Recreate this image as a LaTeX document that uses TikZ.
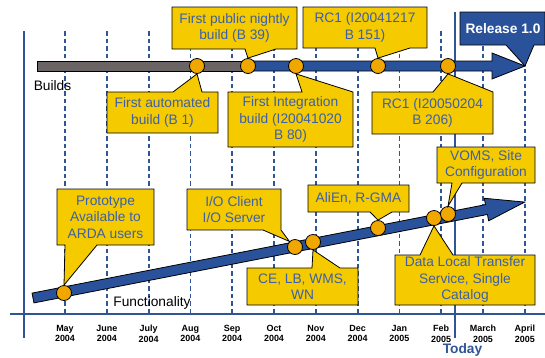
\documentclass[tikz,border=0pt]{standalone}
\usepackage{fontspec}
\setmainfont{Liberation Sans}

\definecolor{boxyellow}{HTML}{F5CB00}
\definecolor{dotorange}{HTML}{F0A800}
\definecolor{noteblue}{HTML}{3C5FAA}
\definecolor{barblue}{HTML}{2A529B}
\definecolor{lineblue}{HTML}{2F5597}
\definecolor{bargray}{HTML}{6A6464}

\begin{document}
\begin{tikzpicture}[x=1bp, y=-1bp, line join=miter,
	notebox/.style={fill=boxyellow, draw=black, line width=0.8bp},
	note/.style={align=center, text=noteblue, inner sep=0pt, font=\fontsize{13.8}{16.4}\selectfont},
	dot/.style={circle, fill=dotorange, draw=black, line width=0.8bp, minimum size=15bp, inner sep=0pt},
	month/.style={align=center, inner sep=0pt, font=\bfseries\fontsize{9}{10.7}\selectfont},
	gridline/.style={lineblue, line width=1.8bp, dash pattern=on 4.5bp off 3bp},
	axis/.style={lineblue, line width=1.5bp}]

	\useasboundingbox (0,0) rectangle (545,357);

	% months
	\foreach \m/\yr [count=\i from 0] in {May/2004,June/2004,July/2004,Aug/2004,Sep/2004,Oct/2004,Nov/2004,Dec/2004,Jan/2005,Feb/2005,March/2005,April/2005}{
		\draw[gridline] ({65+41.8*\i},31) -- ({65+41.8*\i},314);
		\node[month] (m\i) at ({65+41.8*\i},333.5) {\m\\\yr};}

	\node[font=\bfseries\fontsize{13.8}{16}\selectfont, text=lineblue, inner sep=0pt] (today) at (462.5,350) {Today};
	\draw[lineblue, line width=1.8bp] (455,12) -- (455,338);
	\draw[axis] (24,31) -- (24,338);
	\draw[axis] (10,314) -- (545,314);

	% builds
	\filldraw[fill=barblue, line width=0.8bp] (245,61) -- (492,61) -- (492,53) -- (525,66) -- (492,79) -- (492,71) -- (245,71) -- cycle;
	\filldraw[fill=bargray, line width=0.8bp] (37,61) rectangle (248,71);
	\coordinate (buildend) at (525,66);
	\node[note, text=black] (builds) at (52.5,86) {Builds};

	% functionality
	\begin{scope}[shift={(33,298)}, rotate=11.04]
		\filldraw[fill=barblue, line width=0.8bp] (0,-5) -- (462,-5) -- (462,-11.5) -- (501,0) -- (462,11.5) -- (462,5) -- (0,5) -- cycle;
	\end{scope}
	\node[note, text=black] (func) at (152,303) {Functionality};

	\foreach \x [count=\i] in {197,248,296,378,448}
		\node[dot] (b\i) at (\x,66) {};
	\foreach \x/\y [count=\i] in {64/293,295/247,313/242,378/228,434/218,448/214}
		\node[dot] (f\i) at (\x,\y) {};

	% build notes
	\filldraw[notebox] (172,7) -- (297,7) -- (297,49) -- (276,49) -- (b2.north) -- (245,49) -- (172,49) -- cycle;
	\node[note] (nightly) at (234.5,28) {First public nightly\\build (B 39)};
	\filldraw[notebox] (303,7) -- (427,7) -- (427,48) -- (410,48) -- (b4.north) -- (375,48) -- (303,48) -- cycle;
	\node[note] (rcone) at (365,27.5) {RC1 (I20041217\\B 151)};
	\filldraw[notebox, fill=barblue] (460,12) -- (545,12) -- (545,45) -- (534,45) -- (buildend) -- (506,45) -- (460,45) -- cycle;
	\node[note, text=white, font=\bfseries\fontsize{13.8}{16}\selectfont] (release) at (503,28.5) {Release 1.0};
	\filldraw[notebox] (107,92) -- (173,92) -- (b1.south) -- (202,92) -- (218,92) -- (218,133) -- (107,133) -- cycle;
	\node[note] (auto) at (162.5,112.5) {First automated\\build (B 1)};
	\filldraw[notebox] (228,92) -- (302,92) -- (b3.south) -- (353,92) -- (353,147) -- (228,147) -- cycle;
	\node[note] (integ) at (290.5,119.5) {First Integration\\build (I20041020\\B 80)};
	\filldraw[notebox] (372,92) -- (433,92) -- (b5.south) -- (493,92) -- (493,134) -- (372,134) -- cycle;
	\node[note] (rctwo) at (432.5,113) {RC1 (I20050204\\B 206)};

	% functionality notes
	\filldraw[notebox] (57,189) -- (154,189) -- (154,245) -- (97,245) -- (f1.north) -- (65,245) -- (57,245) -- cycle;
	\node[note] (proto) at (105.5,217) {Prototype\\Available to\\ARDA users};
	\filldraw[notebox] (187,189) -- (281,189) -- (281,230) -- (f2.135) -- (263,230) -- (187,230) -- cycle;
	\node[note] (io) at (234,209.5) {I/O Client\\I/O Server};
	\filldraw[notebox] (247,268) -- (312,268) -- (f3.south) -- (340,268) -- (358,268) -- (358,305) -- (247,305) -- cycle;
	\node[note] (ce) at (302.5,287) {CE, LB, WMS,\\WN};
	\filldraw[notebox] (308,185) -- (409,185) -- (409,212) -- (392,212) -- (f4.north) -- (370,212) -- (308,212) -- cycle;
	\node[note] (alien) at (358.5,198.5) {AliEn, R-GMA};
	\filldraw[notebox] (437,147) -- (535,147) -- (535,183) -- (462,183) -- (f6.north) -- (452,183) -- (437,183) -- cycle;
	\node[note] (voms) at (486,165) {VOMS, Site\\Configuration};
	\filldraw[notebox] (395,255) -- (420,255) -- (f5.south) -- (453,255) -- (535,255) -- (535,305) -- (395,305) -- cycle;
	\node[note] (data) at (465,279.5) {Data Local Transfer\\Service, Single\\Catalog};

\end{tikzpicture}
\end{document}
